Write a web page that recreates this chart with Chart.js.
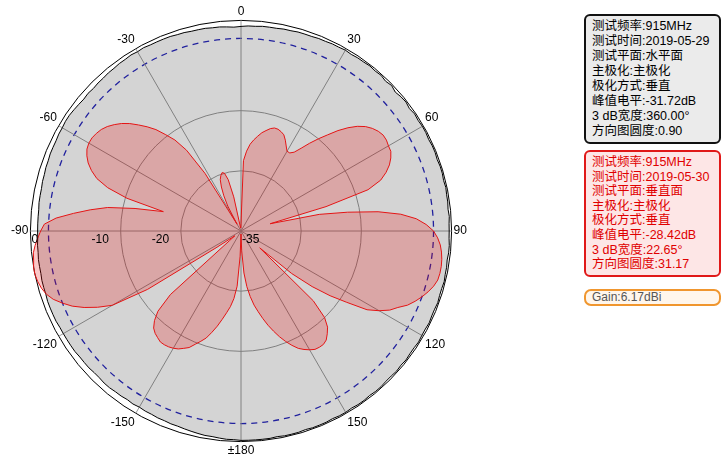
<!DOCTYPE html>
<html>
<head>
<meta charset="utf-8">
<script src="https://cdn.jsdelivr.net/npm/chart.js@4/dist/chart.umd.min.js"></script>
<style>
  body { margin: 0; background: #fff; width: 724px; height: 472px; overflow: hidden; position: relative; }
  #wrap { position: absolute; left: -40px; top: 0; width: 563px; height: 472px; }
  .box { position: absolute; left: 584px; width: 127px; border: 2px solid; border-radius: 6px;
         padding: 3px 0 0 6px; font-family: "Liberation Sans", "Noto Sans CJK SC", sans-serif;
         font-size: 12.5px; line-height: 15px; white-space: nowrap; }
  #boxH { top: 14px; height: 123px; border-color: #111; background: #ebebeb; color: #000; }
  #boxV { top: 150px; height: 120px; line-height: 14.6px; border-color: #e01818; background: #fde6e6; color: #e00000; }
  #boxG { top: 289px; height: 13px; padding-top: 0; line-height: 13px; font-size: 12px;
          border-color: #f0962e; border-radius: 7px; background: #fff6ec; color: #555; }
</style>
</head>
<body>
<div id="wrap"><canvas id="patternChart"></canvas></div>
<div class="box" id="boxH"></div>
<div class="box" id="boxV"></div>
<div class="box" id="boxG"></div>
<script>
////Angles in degrees, clockwise from the top (one row = 30 degrees)
const ANGLES = [
    0, 2, 4, 6, 8, 10, 12, 14, 16, 18, 20, 22, 24, 26, 28,
    30, 32, 34, 36, 38, 40, 42, 44, 46, 48, 50, 52, 54, 56, 58,
    60, 62, 64, 66, 68, 70, 72, 74, 76, 78, 80, 82, 84, 86, 88,
    90, 92, 94, 96, 98, 100, 102, 104, 106, 108, 110, 112, 114, 116, 118,
    120, 122, 124, 126, 128, 130, 132, 134, 136, 138, 140, 142, 144, 146, 148,
    150, 152, 154, 156, 158, 160, 162, 164, 166, 168, 170, 172, 174, 176, 178,
    180, -178, -176, -174, -172, -170, -168, -166, -164, -162, -160, -158, -156, -154, -152,
    -150, -148, -146, -144, -142, -140, -138, -136, -134, -132, -130, -128, -126, -124, -122,
    -120, -118, -116, -114, -112, -110, -108, -106, -104, -102, -100, -98, -96, -94, -92,
    -90, -88, -86, -84, -82, -80, -78, -76, -74, -72, -70, -68, -66, -64, -62,
    -60, -58, -56, -54, -52, -50, -48, -46, -44, -42, -40, -38, -36, -34, -32,
    -30, -28, -26, -24, -22, -20, -18, -16, -14, -12, -10, -8, -6, -4, -2
];

////Horizontal plane pattern, normalised dB (2019-05-29)
const HORIZ_DB = [
    -1.0, -0.9, -0.9, -0.8, -0.8, -0.8, -0.7, -0.7, -0.6, -0.6, -0.6, -0.5, -0.5, -0.4, -0.4,
    -0.3, -0.4, -0.3, -0.3, -0.2, -0.3, -0.2, -0.4, -0.2, -0.5, -0.3, -0.2, -0.4, -0.2, -0.3,
    -0.2, -0.2, -0.3, -0.2, -0.2, -0.3, -0.2, -0.2, -0.3, -0.2, -0.3, -0.3, -0.4, -0.3, -0.4,
    -0.4, -0.4, -0.3, -0.3, -0.4, -0.3, -0.3, -0.2, -0.3, -0.3, -0.2, -0.3, -0.3, -0.2, -0.3,
    -0.3, -0.2, -0.3, -0.3, -0.2, -0.3, -0.2, -0.3, -0.3, -0.2, -0.2, -0.3, -0.2, -0.2, -0.3,
    -0.2, -0.2, -0.3, -0.2, -0.2, -0.2, -0.3, -0.2, -0.2, -0.2, -0.3, -0.2, -0.2, -0.2, -0.2,
    -0.2, -0.3, -0.3, -0.4, -0.5, -0.5, -0.6, -0.7, -0.8, -0.9, -0.9, -1.0, -1.0, -1.1, -1.1,
    -1.2, -1.1, -1.2, -1.1, -1.1, -1.0, -1.0, -1.1, -1.1, -1.0, -1.0, -1.0, -0.9, -0.9, -0.9,
    -0.9, -0.9, -0.8, -0.8, -0.8, -0.8, -0.9, -0.9, -0.9, -1.0, -1.0, -1.0, -1.1, -1.1, -1.2,
    -1.2, -1.2, -1.2, -1.2, -1.1, -1.1, -1.1, -1.0, -1.0, -0.9, -0.9, -0.8, -0.8, -0.8, -0.7,
    -0.7, -0.6, -0.6, -0.7, -0.8, -0.9, -0.8, -0.9, -0.8, -0.8, -0.7, -0.7, -0.6, -0.6, -0.5,
    -0.6, -0.5, -0.6, -0.6, -0.6, -0.6, -0.7, -0.7, -0.8, -0.8, -0.8, -0.9, -0.9, -1.0, -1.1
];

////Vertical plane pattern, normalised dB (2019-05-30)
const VERT_DB = [
    -33.7, -23.3, -21.7, -20.5, -19.7, -19.0, -18.3, -17.8, -17.3, -17.0, -17.0, -17.2, -17.5, -18.2, -19.0,
    -19.7, -19.7, -19.2, -18.0, -16.5, -15.0, -13.5, -11.8, -10.3, -9.0, -8.0, -7.3, -6.8, -6.5, -6.5,
    -6.7, -6.8, -7.3, -8.0, -9.0, -10.3, -12.8, -20.3, -30.0, -21.7, -17.0, -12.0, -8.3, -5.8, -4.2,
    -3.0, -2.3, -1.8, -1.5, -1.3, -1.2, -1.2, -1.3, -1.7, -2.3, -3.0, -3.8, -4.7, -6.0, -7.0,
    -8.5, -10.3, -13.8, -16.7, -20.0, -24.0, -30.8, -18.3, -15.0, -13.5, -12.7, -12.0, -11.7, -11.7, -11.8,
    -12.2, -12.7, -13.3, -14.2, -15.2, -16.3, -17.5, -18.7, -20.0, -21.3, -22.5, -24.0, -25.7, -28.0, -31.7,
    -34.5, -30.8, -25.8, -23.7, -22.3, -21.2, -20.0, -18.7, -17.5, -16.3, -15.5, -14.7, -13.8, -13.3, -12.8,
    -12.5, -12.3, -12.2, -12.2, -12.5, -12.8, -13.3, -14.3, -15.8, -19.2, -32.5, -33.7, -33.0, -30.0, -16.7,
    -10.3, -8.0, -6.0, -4.3, -3.0, -1.8, -1.0, -0.5, -0.2, 0.0, 0.0, -0.2, -0.3, -0.7, -1.2,
    -1.7, -2.3, -4.2, -7.0, -9.7, -12.5, -17.0, -21.7, -15.3, -11.7, -9.5, -8.2, -7.2, -6.5, -6.0,
    -5.8, -5.8, -6.0, -6.3, -6.8, -7.5, -8.3, -9.3, -10.5, -11.7, -13.0, -14.7, -16.3, -18.8, -23.7,
    -33.7, -30.3, -28.5, -27.0, -25.8, -25.2, -24.8, -25.0, -26.2, -29.2, -34.0, -34.5, -34.5, -34.5, -34.3
];

////Radial axis: rings and the printed dB labels
const DB_MIN = -35;
const DB_MAX = 0;
const RING_DB = [-35, -25, -15, -3, 0];   // -3 is the dashed 3 dB ring
const DB_LABELS = [-35, -20, -10, 0];

////Text of the info boxes
const INFO_H = ["测试频率:915MHz", "测试时间:2019-05-29", "测试平面:水平面", "主极化:主极化",
                "极化方式:垂直", "峰值电平:-31.72dB", "3 dB宽度:360.00°", "方向图圆度:0.90"];
const INFO_V = ["测试频率:915MHz", "测试时间:2019-05-30", "测试平面:垂直面", "主极化:主极化",
                "极化方式:垂直", "峰值电平:-28.42dB", "3 dB宽度:22.65°", "方向图圆度:31.17"];
const GAIN_TEXT = "Gain:6.17dBi";

document.getElementById("boxH").innerHTML = INFO_H.join("<br>");
document.getElementById("boxV").innerHTML = INFO_V.join("<br>");
document.getElementById("boxG").textContent = GAIN_TEXT;

//Draw the dB labels along the -90 spoke, left aligned at their radius
const dbLabelPlugin = {
    id: 'dbLabels',
    afterDatasetsDraw(chart) {
        const r = chart.scales.r;
        const ctx = chart.ctx;
        ctx.save();
        ctx.font = '12px "Liberation Sans"';
        ctx.fillStyle = '#000';
        ctx.textAlign = 'left';
        ctx.textBaseline = 'top';
        for (const v of DB_LABELS) {
            ctx.fillText(String(v), r.xCenter - r.getDistanceFromCenterForValue(v) + 1, r.yCenter + 3);
        }
        ctx.restore();
    }
};

var ctx = document.getElementById("patternChart").getContext('2d');
var patternChart = new Chart(ctx, {
    type: 'radar',
    data: {
        labels: ANGLES,
        datasets: [{
            label: 'Vertical',
            data: VERT_DB,
            order: 1,
            fill: 'start',
            backgroundColor: 'rgba(235, 0, 0, 0.22)',
            borderColor: 'rgb(228, 20, 20)',
            borderWidth: 1
        }, {
            label: 'Horizontal',
            data: HORIZ_DB,
            order: 2,
            fill: 'start',
            backgroundColor: 'rgba(0, 0, 0, 0.17)',
            borderColor: '#000',
            borderWidth: 1
        }]
    },
    options: {
        responsive: true,
        maintainAspectRatio: false,
        animation: false,
        layout: { padding: { top: 4, bottom: 14, left: 0, right: 0 } },
        elements: {
            point: { radius: 0, hitRadius: 0 },
            line: { tension: 0 }
        },
        plugins: {
            legend: { display: false },
            tooltip: { enabled: false }
        },
        scales: {
            r: {
                min: DB_MIN,
                max: DB_MAX,
                afterBuildTicks: (scale) => {
                    scale.ticks = RING_DB.map(v => ({ value: v }));
                },
                ticks: { display: false },
                grid: {
                    circular: true,
                    color: (c) => {
                        const v = c.tick ? c.tick.value : null;
                        if (v === 0) return '#000';
                        if (v === -3) return 'rgb(40, 40, 190)';
                        if (v === -35) return 'rgba(0,0,0,0)';
                        return '#9a9a9a';
                    },
                    lineWidth: (c) => (c.tick && c.tick.value === -3 ? 1.3 : 1),
                    borderDash: (c) => (c.tick && c.tick.value === -3 ? [6, 5] : [])
                },
                border: {
                    dash: (c) => (c.tick && c.tick.value === -3 ? [6, 5] : [])
                },
                angleLines: {
                    color: '#9a9a9a',
                    lineWidth: (c) => (c.index % 15 === 0 ? 1 : 0)
                },
                pointLabels: {
                    padding: 2,
                    color: '#000',
                    font: { family: 'Liberation Sans', size: 12 },
                    callback: (label) => {
                        if (label % 30 !== 0) return '';
                        return Math.abs(label) === 180 ? '±180' : String(label);
                    }
                }
            }
        }
    },
    plugins: [dbLabelPlugin]
});
</script>
</body>
</html>
